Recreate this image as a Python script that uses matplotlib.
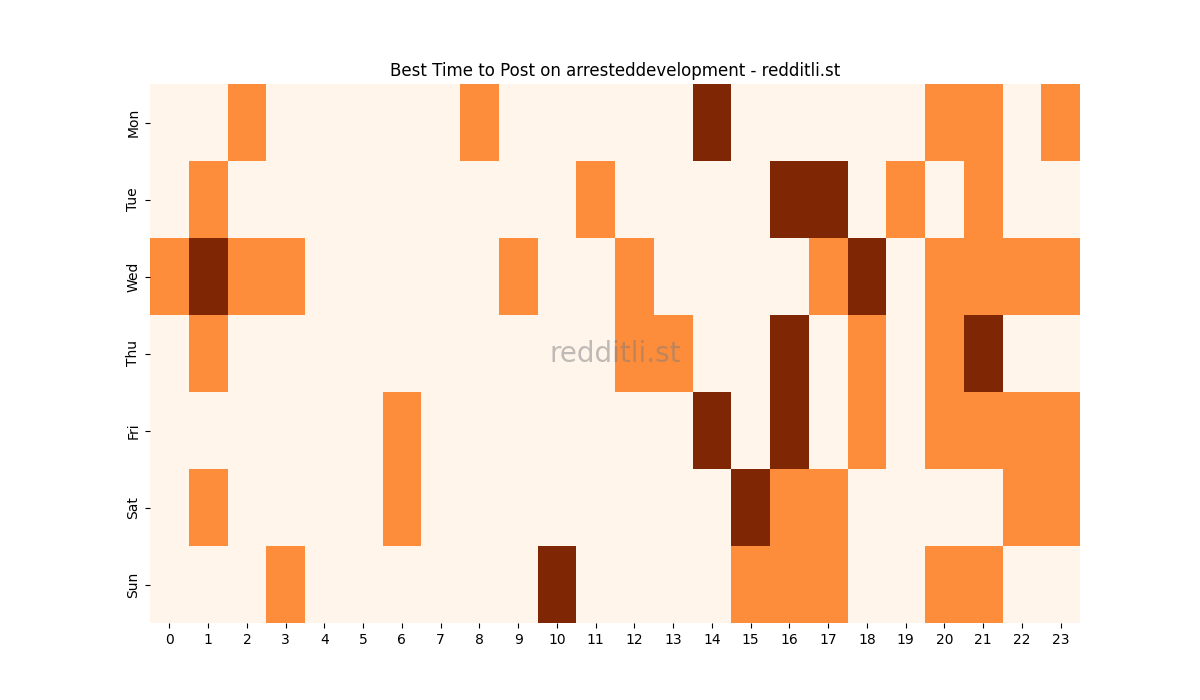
import numpy as np
import matplotlib
matplotlib.use("Agg")
from matplotlib import pyplot as plt
import seaborn as sns

# Data: 0 = quiet, 1 = good, 2 = best
days = ['Mon', 'Tue', 'Wed', 'Thu', 'Fri', 'Sat', 'Sun']
hours = list(range(24))

mon = [0, 0, 1, 0, 0, 0, 0, 0, 1, 0, 0, 0, 0, 0, 2, 0, 0, 0, 0, 0, 1, 1, 0, 1]
tue = [0, 1, 0, 0, 0, 0, 0, 0, 0, 0, 0, 1, 0, 0, 0, 0, 2, 2, 0, 1, 0, 1, 0, 0]
wed = [1, 2, 1, 1, 0, 0, 0, 0, 0, 1, 0, 0, 1, 0, 0, 0, 0, 1, 2, 0, 1, 1, 1, 1]
thu = [0, 1, 0, 0, 0, 0, 0, 0, 0, 0, 0, 0, 1, 1, 0, 0, 2, 0, 1, 0, 1, 2, 0, 0]
fri = [0, 0, 0, 0, 0, 0, 1, 0, 0, 0, 0, 0, 0, 0, 2, 0, 2, 0, 1, 0, 1, 1, 1, 1]
sat = [0, 1, 0, 0, 0, 0, 1, 0, 0, 0, 0, 0, 0, 0, 0, 2, 1, 1, 0, 0, 0, 0, 1, 1]
sun = [0, 0, 0, 1, 0, 0, 0, 0, 0, 0, 2, 0, 0, 0, 0, 1, 1, 1, 0, 0, 1, 1, 0, 0]

grid = np.array([mon, tue, wed, thu, fri, sat, sun])

fig, ax = plt.subplots(figsize=(12, 7), dpi=100)
sns.heatmap(grid, cmap='Oranges', cbar=False, ax=ax,
            xticklabels=hours, yticklabels=days)
ax.set_yticklabels(days, rotation=90, va='center')
ax.set_xticklabels(hours, rotation=0)
ax.set_title('Best Time to Post on arresteddevelopment - redditli.st')

# Watermark
ax.text(0.5, 0.5, 'redditli.st', transform=ax.transAxes, fontsize=20,
        color='gray', alpha=0.5, ha='center', va='center')

fig.savefig('out.png')
